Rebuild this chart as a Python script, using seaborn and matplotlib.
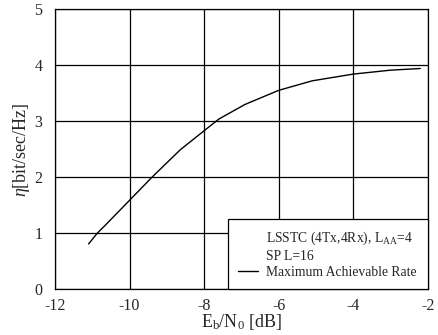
import matplotlib
matplotlib.use("Agg")
import matplotlib.pyplot as plt
import seaborn as sns
import pandas as pd
from matplotlib.lines import Line2D

ebn0 = [-11.1, -10.87, -10.6, -10.0, -9.4, -8.64, -8.0, -7.6, -6.9, -6.0, -5.1, -4.0, -3.0, -2.2]
rate = [0.81, 1.00, 1.18, 1.59, 2.00, 2.49, 2.83, 3.04, 3.30, 3.55, 3.72, 3.84, 3.91, 3.94]
xticks = [-12, -10, -8, -6, -4, -2]
yticks = [0, 1, 2, 3, 4, 5]
legend_labels = ["LSSTC (4Tx,4Rx), L$_{\\mathrm{AA}}$=4", "SP L=16", "Maximum Achievable Rate"]

sns.set_theme(style="white")
plt.rcParams['font.family'] = ['Liberation Serif', 'DejaVu Serif']
plt.rcParams['mathtext.fontset'] = 'custom'
plt.rcParams['mathtext.rm'] = 'Liberation Serif'
plt.rcParams['mathtext.it'] = 'Liberation Serif:italic'

df = pd.DataFrame({"x": ebn0, "y": rate})
fig = plt.figure(figsize=(4.38, 3.35), dpi=100)
ax = fig.add_axes([0.1256, 0.136, 0.851, 0.837])
sns.lineplot(data=df, x="x", y="y", ax=ax, color="black", linewidth=1.0)
ax.set_xlim(-12, -2)
ax.set_ylim(0, 5)
ax.set_xticks(xticks)
ax.set_yticks(yticks)
ax.set_xticklabels([str(t) for t in xticks], fontsize=11.5)
ax.set_yticklabels([str(t) for t in yticks], fontsize=11.5)
ax.tick_params(axis="x", length=0, pad=6)
ax.tick_params(axis="y", length=0, pad=9)
ax.grid(True, color="black", linewidth=0.9)
for s in ax.spines.values():
    s.set_color("black")
    s.set_linewidth(0.9)
ax.set_xlabel("E$_\\mathrm{b}$/N$_0$ [dB]", fontsize=13, labelpad=-1)
ax.set_ylabel("$\\eta$[bit/sec/Hz]", fontsize=13, labelpad=2)

handles = [Line2D([], [], color="none"), Line2D([], [], color="none"),
           Line2D([], [], color="black", linewidth=1.0)]
leg = ax.legend(handles, legend_labels, loc="lower right", fontsize=9.8,
                frameon=True, fancybox=False, framealpha=1, edgecolor="black",
                borderaxespad=0, handlelength=1.4, handletextpad=0.65,
                labelspacing=0.2, borderpad=0.8)
leg.get_frame().set_linewidth(0.9)
fig.savefig("out.png", dpi=100)
